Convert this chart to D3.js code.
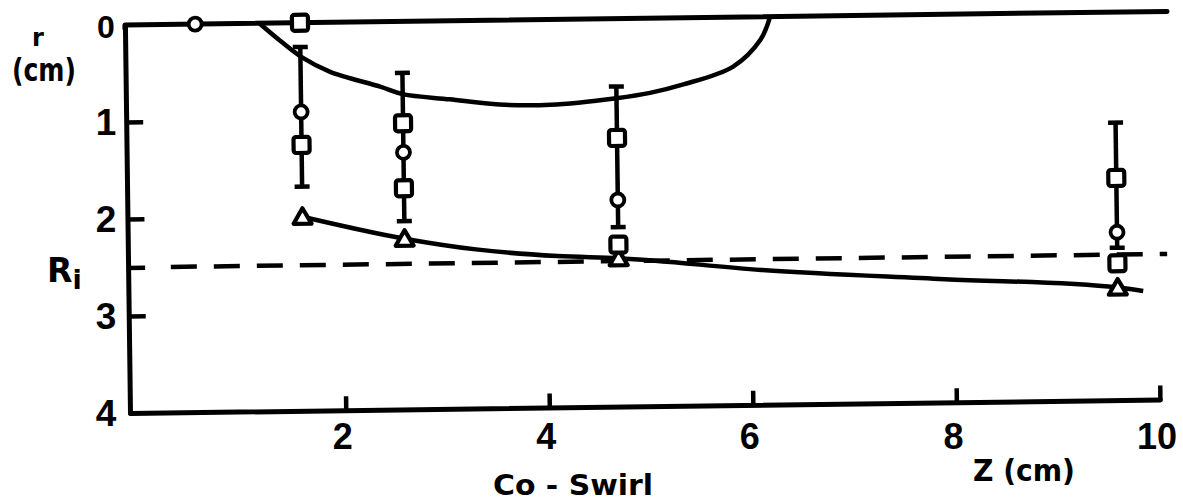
<!DOCTYPE html>
<html>
<head>
<meta charset="utf-8">
<script src="https://cdn.jsdelivr.net/npm/d3@7"></script>
<style>
  html, body { margin: 0; padding: 0; background: #fff; }
  svg { display: block; }
  text { font-family: "Liberation Sans", Arial, sans-serif; font-weight: bold; fill: #000; }
  text.title { font-family: "DejaVu Sans", sans-serif; }
</style>
</head>
<body>
<svg id="chart" width="1183" height="503"></svg>
<script>
// Axial station z (cm) of each measuring column
const columnZ = [1.6, 2.6, 4.7, 9.6];
// Error-bar extent of radius r (cm) at each column
const errTop = [0.25, 0.53, 0.70, 1.14];
const errBottom = [1.69, 2.06, 2.15, 2.43];

// Circle markers (z, r)
const circleZ = [0.57, 1.6, 2.6, 4.7, 9.6];
const circleR = [0, 0.92, 1.35, 1.87, 2.27];

// Square markers (z, r)
const squareZ = [1.6, 1.6, 2.6, 2.6, 4.7, 4.7, 9.6, 9.6];
const squareR = [0, 1.26, 1.05, 1.72, 1.23, 2.33, 1.71, 2.59];

// Triangle markers (z, r)
const triangleZ = [1.6, 2.6, 4.7, 9.6];
const triangleR = [2.0, 2.24, 2.47, 2.84];

// Recirculation boundary (bowl) from the axis
const bowlZ = [1.2, 1.4, 1.62, 1.89, 2.38, 2.6, 3.06, 3.55, 4.05, 4.7, 5.03, 5.35, 5.85, 6.12, 6.22];
const bowlR = [0, 0.18, 0.36, 0.51, 0.67, 0.75, 0.81, 0.87, 0.88, 0.82, 0.77, 0.69, 0.51, 0.24, 0];

// Curve through the triangles
const lowerZ = [1.6, 2.6, 3.3, 4.1, 4.7, 6.1, 7.9, 9.6, 9.85];
const lowerR = [2.0, 2.24, 2.36, 2.44, 2.47, 2.61, 2.73, 2.84, 2.88];

// Inner radius Ri and its dashed reference line extent
const innerRadius = 2.5;
const innerLineZ = [0.3, 10.09];

// Axis ticks and labels
const zTicks = [2, 4, 6, 8, 10];
const zTickLabels = ["2", "4", "6", "8", "10"];
const rTicks = [1, 2, 2.5, 3];
const rLabelValues = [0, 1, 2, 3, 4];
const rLabels = ["0", "1", "2", "3", "4"];
const zDomain = [-0.12, 10];
const rDomain = [0, 4];
const topLineEnd = 10.12;

const svg = d3.select("#chart");
const x = d3.scaleLinear().domain(zDomain).range([130, 1160]);
const y = d3.scaleLinear().domain(rDomain).range([25, 413]);

const ink = "#000";
// the drawing sits slightly tilted on the sheet
const g = svg.append("g").attr("transform", "rotate(-0.75, 130, 413)");

// Axes
const xAxis = d3.axisBottom(x).tickValues(zTicks).tickSize(-14).tickSizeOuter(0).tickFormat("");
const yAxis = d3.axisLeft(y).tickValues(rTicks).tickSize(-17).tickSizeOuter(0).tickFormat("");

const gx = g.append("g").attr("transform", `translate(0,${y(4)})`).call(xAxis);
const gy = g.append("g").attr("transform", `translate(${x(zDomain[0])},0)`).call(yAxis);
[gx, gy].forEach(a => {
  a.select(".domain").attr("stroke", ink).attr("stroke-width", 5).attr("stroke-linecap", "round");
  a.selectAll(".tick line").attr("stroke", ink).attr("stroke-width", 4.5);
});

// r = 0 line (the axis of symmetry), joining the r axis at a rounded corner
g.append("path")
  .attr("d", d3.line()([[x(zDomain[0]), y(0.04)], [x(zDomain[0]), y(0)], [x(topLineEnd), y(0)]]))
  .attr("fill", "none").attr("stroke", ink).attr("stroke-width", 5)
  .attr("stroke-linejoin", "round").attr("stroke-linecap", "round");

// Ri dashed line
g.append("line")
  .attr("x1", x(innerLineZ[0])).attr("x2", x(innerLineZ[1]))
  .attr("y1", y(innerRadius)).attr("y2", y(innerRadius))
  .attr("stroke", ink).attr("stroke-width", 4.5).attr("stroke-dasharray", "26,17");

// Bowl curve
const bowlPts = bowlZ.map((z, i) => [x(z), y(bowlR[i])]);
g.append("path")
  .attr("d", d3.line().curve(d3.curveCatmullRom.alpha(0.5))(bowlPts))
  .attr("fill", "none").attr("stroke", ink).attr("stroke-width", 4.5);

// Lower curve
const lowerPts = lowerZ.map((z, i) => [x(z), y(lowerR[i])]);
g.append("path")
  .attr("d", d3.line().curve(d3.curveMonotoneX)(lowerPts))
  .attr("fill", "none").attr("stroke", ink).attr("stroke-width", 4.5);

// Error bars
columnZ.forEach((z, i) => {
  const cx = x(z);
  g.append("line").attr("x1", cx).attr("x2", cx)
    .attr("y1", y(errTop[i])).attr("y2", y(errBottom[i]))
    .attr("stroke", ink).attr("stroke-width", 4.5);
  [errTop[i], errBottom[i]].forEach(v => {
    g.append("line").attr("x1", cx - 7.5).attr("x2", cx + 7.5)
      .attr("y1", y(v)).attr("y2", y(v))
      .attr("stroke", ink).attr("stroke-width", 4.5);
  });
});

// Triangles
triangleZ.forEach((z, i) => {
  const cx = x(z), cy = y(triangleR[i]);
  g.append("path")
    .attr("d", `M${cx},${cy - 8.5}L${cx + 9},${cy + 7}L${cx - 9},${cy + 7}Z`)
    .attr("fill", "#fff").attr("stroke", ink).attr("stroke-width", 4.2).attr("stroke-linejoin", "round");
});

// Squares
squareZ.forEach((z, i) => {
  g.append("rect")
    .attr("x", x(z) - 8).attr("y", y(squareR[i]) - 8)
    .attr("width", 16).attr("height", 16).attr("rx", 2.5)
    .attr("fill", "#fff").attr("stroke", ink).attr("stroke-width", 4.2);
});

// Circles
circleZ.forEach((z, i) => {
  g.append("circle")
    .attr("cx", x(z)).attr("cy", y(circleR[i])).attr("r", 6.5)
    .attr("fill", "#fff").attr("stroke", ink).attr("stroke-width", 3.8);
});

// Tick labels
svg.append("g").selectAll("text").data(zTicks).join("text")
  .attr("x", (d, i) => x(d) - 3).attr("y", 449)
  .attr("text-anchor", "middle").attr("font-size", 36)
  .text((d, i) => zTickLabels[i]);

svg.append("g").selectAll("text").data(rLabelValues).join("text")
  .attr("x", 106).attr("y", d => y(d) + 13)
  .attr("text-anchor", "middle").attr("font-size", d => d === 0 ? 32 : 37)
  .text((d, i) => rLabels[i]);

// Axis titles
svg.append("text").attr("class", "title").attr("x", 38).attr("y", 46).attr("text-anchor", "middle")
  .attr("font-size", 24).text("r");
svg.append("text").attr("class", "title").attr("x", 44).attr("y", 81).attr("text-anchor", "middle")
  .attr("font-size", 32).attr("textLength", 64).attr("lengthAdjust", "spacingAndGlyphs").text("(cm)");

const ri = svg.append("text").attr("class", "title").attr("x", 47).attr("y", 282).attr("font-size", 33);
ri.append("tspan").text("R");
ri.append("tspan").attr("dy", 7).attr("font-size", 27).text("i");

svg.append("text").attr("class", "title").attr("x", 573).attr("y", 495).attr("text-anchor", "middle")
  .attr("font-size", 28).attr("textLength", 160).attr("lengthAdjust", "spacingAndGlyphs")
  .text("Co - Swirl");
svg.append("text").attr("class", "title").attr("x", 1024).attr("y", 481).attr("text-anchor", "middle")
  .attr("font-size", 30).attr("textLength", 102).attr("lengthAdjust", "spacingAndGlyphs")
  .text("Z (cm)");
</script>
</body>
</html>
